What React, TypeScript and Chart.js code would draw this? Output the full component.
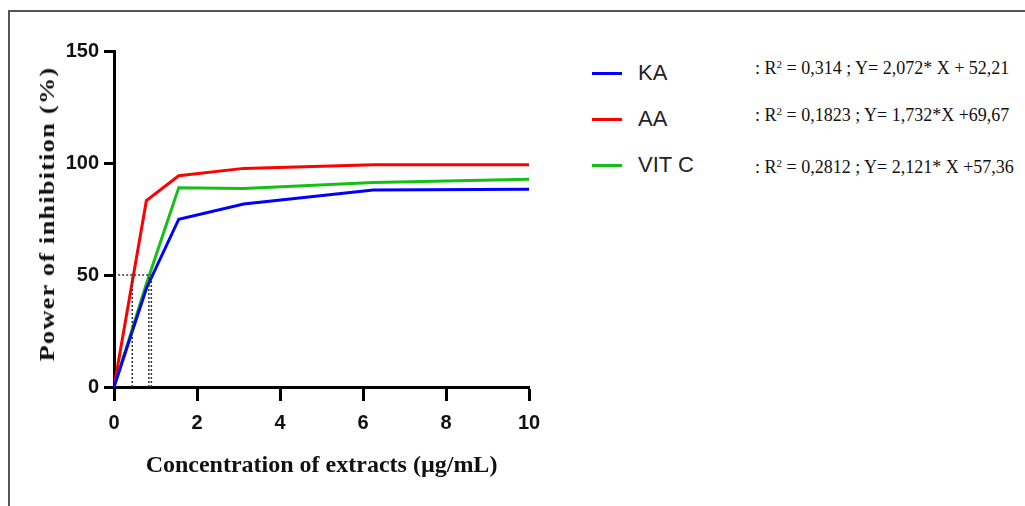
import React, { useEffect, useRef } from "react";
import { Chart, registerables } from "chart.js";

Chart.register(...registerables);

const concentrations = [0, 0.78, 1.56, 3.125, 6.25, 10];
const kaValues = [0, 44, 74.9, 81.7, 87.9, 88.3];
const aaValues = [0, 83.2, 94.3, 97.6, 99.2, 99.2];
const vitcValues = [0, 46, 89.0, 88.6, 91.3, 92.8];

const seriesNames = ["KA", "AA", "VIT C"];
const seriesColors = ["#0000ff", "#ff0000", "#14c014"];
const equations = [
  { r2: "0,314", eq: "Y= 2,072* X + 52,21" },
  { r2: "0,1823", eq: "Y= 1,732*X +69,67" },
  { r2: "0,2812", eq: "Y= 2,121* X +57,36" },
];

const ic50Level = 50;
const ic50X = [0.44, 0.84, 0.9];
const guideStartX = 0.1;
const guideEndX = 0.91;

const xTicks = [0, 2, 4, 6, 8, 10];
const yTicks = [0, 50, 100, 150];

const xTitle = "Concentration of extracts (µg/mL)";
const yTitle = "Power of inhibition (%)";

export default function App() {
  const canvasRef = useRef<HTMLCanvasElement | null>(null);

  useEffect(() => {
    if (!canvasRef.current) return;
    const mk = (vals: number[]) => concentrations.map((x, i) => ({ x, y: vals[i] }));
    const guide = {
      borderColor: "#333",
      borderWidth: 1.5,
      borderDash: [2, 2],
      pointRadius: 0,
      fill: false,
    };
    const guideSets: any[] = [
      { ...guide, label: "_h", data: [{ x: guideStartX, y: ic50Level }, { x: guideEndX, y: ic50Level }] },
      ...ic50X.map((x, i) => ({ ...guide, label: "_v" + i, data: [{ x, y: 0 }, { x, y: ic50Level }] })),
    ];
    const chart = new Chart(canvasRef.current, {
      type: "line",
      data: {
        datasets: [
          ...guideSets,
          { label: seriesNames[0], data: mk(kaValues), borderColor: seriesColors[0], borderWidth: 3, pointRadius: 0, tension: 0 },
          { label: seriesNames[1], data: mk(aaValues), borderColor: seriesColors[1], borderWidth: 3, pointRadius: 0, tension: 0 },
          { label: seriesNames[2], data: mk(vitcValues), borderColor: seriesColors[2], borderWidth: 3, pointRadius: 0, tension: 0 },
        ],
      },
      options: {
        animation: false,
        responsive: false,
        maintainAspectRatio: false,
        layout: { padding: { top: 51, right: 31, left: 0, bottom: 0 } },
        plugins: { legend: { display: false }, tooltip: { enabled: false } },
        scales: {
          x: {
            type: "linear",
            min: 0,
            max: 10,
            afterBuildTicks: (s: any) => { s.ticks = xTicks.map((v) => ({ value: v })); },
            afterFit: (s: any) => { s.height = 119; },
            border: { display: true, color: "#000", width: 3 },
            grid: { drawOnChartArea: false, drawTicks: true, tickLength: 14, tickColor: "#000", tickWidth: 3 },
            ticks: { color: "#111", padding: 10, font: { family: "Liberation Sans, Arial", size: 20, weight: "bold" } },
            title: {
              display: true,
              text: xTitle,
              color: "#111",
              font: { family: "Liberation Serif, Times New Roman", size: 24, weight: "bold" },
              padding: { top: 0, bottom: 26 },
            },
          },
          y: {
            type: "linear",
            min: 0,
            max: 150,
            afterBuildTicks: (s: any) => { s.ticks = yTicks.map((v) => ({ value: v })); },
            afterFit: (s: any) => { s.width = 114; },
            border: { display: true, color: "#000", width: 3 },
            grid: { drawOnChartArea: false, drawTicks: true, tickLength: 10, tickColor: "#000", tickWidth: 3 },
            ticks: { color: "#111", padding: 5, font: { family: "Liberation Sans, Arial", size: 20, weight: "bold" } },
            title: { display: false },
          },
        },
      } as any,
    });
    return () => chart.destroy();
  }, []);

  const legendY = [73, 119, 165];
  const eqY = [68, 115, 167];

  return (
    <div style={{ position: "fixed", left: 0, top: 0, width: 1025, height: 506, background: "#fff", overflow: "hidden" }}>
      <div style={{ position: "absolute", left: 8, top: 10, width: 1030, height: 520, borderTop: "2px solid #555", borderLeft: "2px solid #555" }} />
      <canvas ref={canvasRef} width={560} height={506} style={{ position: "absolute", left: 0, top: 0, width: 560, height: 506 }} />
      <div
        style={{
          position: "absolute",
          left: 47,
          top: 214,
          transform: "translate(-50%, -50%) rotate(-90deg) scaleX(1.2)",
          fontFamily: "Liberation Serif, Times New Roman",
          fontWeight: "bold",
          fontSize: 22,
          letterSpacing: "1px",
          lineHeight: "24px",
          color: "#111",
          whiteSpace: "nowrap",
        }}
      >
        {yTitle}
      </div>
      {seriesNames.map((name, i) => (
        <React.Fragment key={name}>
          <div style={{ position: "absolute", left: 592, top: legendY[i] - 1.5, width: 30, height: 3, background: seriesColors[i] }} />
          <div style={{ position: "absolute", left: 638, top: legendY[i] - 13, height: 26, lineHeight: "26px", fontFamily: "Liberation Sans, Arial", fontSize: 22, color: "#222", whiteSpace: "nowrap" }}>{name}</div>
        </React.Fragment>
      ))}
      {equations.map((e, i) => (
        <div key={i} style={{ position: "absolute", left: 755, top: eqY[i] - 11, height: 22, lineHeight: "22px", fontFamily: "Liberation Serif, Times New Roman", fontSize: 18, color: "#111", whiteSpace: "nowrap" }}>
          : R<sup style={{ fontSize: 11, verticalAlign: "6px", lineHeight: 0 }}>2</sup> = {e.r2} ; {e.eq}
        </div>
      ))}
    </div>
  );
}
